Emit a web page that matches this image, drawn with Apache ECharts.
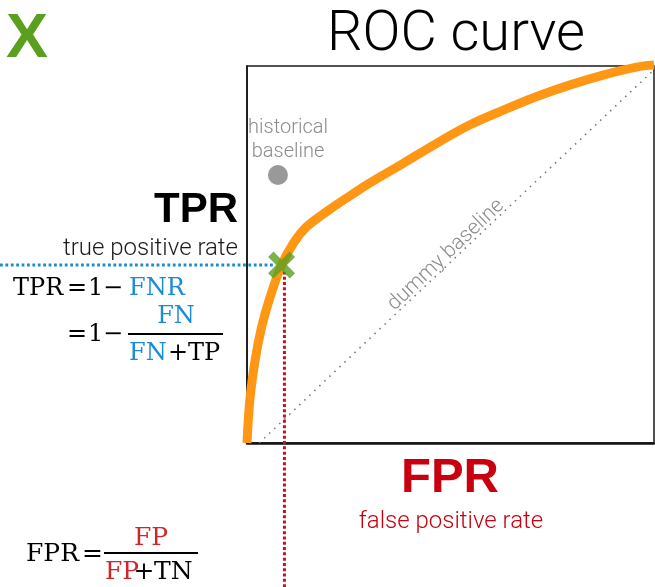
<!DOCTYPE html>
<html>
<head>
<meta charset="utf-8">
<script src="https://cdn.jsdelivr.net/npm/echarts@6/dist/echarts.min.js"></script>
<style>
  html, body { margin: 0; padding: 0; background: #fff; }
  #roc { width: 655px; height: 587px; }
</style>
</head>
<body>
<div id="roc"></div>
<script>
// ROC curve (false positive rate vs true positive rate)
const fpr = [0, 0.007, 0.020, 0.036, 0.057, 0.085, 0.114, 0.147, 0.196, 0.245, 0.302, 0.384, 0.466, 0.548, 0.630, 0.712, 0.794, 0.875, 0.957, 1.0]
const tpr = [0, 0.114, 0.220, 0.308, 0.388, 0.472, 0.530, 0.574, 0.614, 0.650, 0.690, 0.742, 0.795, 0.844, 0.883, 0.919, 0.950, 0.976, 0.997, 1.003]

const dummyBaseline = [[0.03, 0], [1, 0.99]]
const historicalBaseline = [0.076, 0.711]
const operatingPoint = [0.085, 0.472]

// guide lines run from the operating point out to the page edges
const tprGuideX = [-0.607, 0.07]
const fprGuideY = [0.455, -0.39]
const fprGuideX = 0.092

const titleText = 'ROC curve'
const tprLabel = ['TPR', 'true positive rate']
const fprLabel = ['FPR', 'false positive rate']
const histLabel = ['historical', 'baseline']
const dummyLabel = 'dummy baseline'

const blue = '#1b8bd6'
const red = '#c8000f'
const formulaRed = '#d0262b'
const green = '#5b9f1f'
const orange = '#ff9614'
const grey = '#8c8c8c'

const serif = '"DejaVu Serif", serif'
const light = 'Roboto, "Liberation Sans", sans-serif'
const bold = '"Liberation Sans", Arial, sans-serif'

// text placed by its baseline
const txt = (x, base, str, size, color, font, align = 'left', weight = 'normal') => ({
  type: 'text',
  x,
  y: base - (font === light ? 0.27 : 0.32) * size,
  silent: true,
  style: {
    text: str,
    font: `${weight} ${size}px ${font}`,
    fill: color,
    align,
    textAlign: align,
    verticalAlign: 'middle',
    textVerticalAlign: 'middle'
  }
})

const bar = (x1, x2, y) => ({
  type: 'line',
  silent: true,
  shape: { x1, y1: y, x2, y2: y },
  style: { stroke: '#000', lineWidth: 2 }
})

const graphics = [
  txt(27, 60, 'X', 63, green, bold, 'center', 'bold'),
  txt(456, 51, titleText, 56, '#000', light, 'center', '300'),
  txt(238, 224, tprLabel[0], 42, '#000', bold, 'right', 'bold'),
  txt(238, 255, tprLabel[1], 24, '#1a1a1a', light, 'right', '300'),
  txt(288, 133, histLabel[0], 20, grey, light, 'center', '300'),
  txt(288, 157, histLabel[1], 20, grey, light, 'center', '300'),
  txt(450, 494, fprLabel[0], 49, red, bold, 'center', 'bold'),
  txt(451, 528, fprLabel[1], 24, red, light, 'center', '300'),
  {
    type: 'text',
    x: 446,
    y: 255,
    rotation: 43.5 * Math.PI / 180,
    silent: true,
    style: {
      text: dummyLabel,
      font: `300 21px ${light}`,
      fill: grey,
      align: 'center',
      textAlign: 'center',
      verticalAlign: 'middle',
      textVerticalAlign: 'middle'
    }
  },
  // TPR = 1 - FNR = 1 - FN / (FN + TP)
  txt(13, 296, 'TPR', 24, '#000', serif),
  txt(67, 296, '=', 24, '#000', serif),
  txt(88, 296, '1', 24, '#000', serif),
  txt(103, 296, '−', 24, '#000', serif),
  txt(129, 296, 'FNR', 24, blue, serif),
  txt(67, 342, '=', 24, '#000', serif),
  txt(88, 342, '1', 24, '#000', serif),
  txt(103, 342, '−', 24, '#000', serif),
  txt(176, 324, 'FN', 24, blue, serif, 'center'),
  bar(128, 223, 334),
  txt(129, 361, 'FN', 24, blue, serif),
  txt(178, 361, '+', 24, '#000', serif, 'center'),
  txt(188, 361, 'TP', 24, '#000', serif),
  // FPR = FP / (FP + TN)
  txt(26, 562, 'FPR', 25, '#000', serif),
  txt(82, 562, '=', 25, '#000', serif),
  txt(151, 546, 'FP', 25, formulaRed, serif, 'center'),
  bar(104, 198, 553),
  txt(105, 580, 'FP', 25, formulaRed, serif),
  txt(144, 580, '+', 25, '#000', serif, 'center'),
  txt(154, 580, 'TN', 25, '#000', serif)
]

const hiddenAxis = {
  show: false,
  axisLine: { show: false },
  axisTick: { show: false },
  axisLabel: { show: false },
  splitLine: { show: false }
}

const chart = echarts.init(document.getElementById('roc'), null, { renderer: 'canvas' })

chart.setOption({
  animation: false,
  backgroundColor: '#fff',
  grid: [
    {
      left: 247,
      top: 66,
      width: 407,
      height: 377,
      show: true,
      borderColor: '#1a1a1a',
      borderWidth: 1.5,
      backgroundColor: 'transparent'
    },
    // same scale stretched over the full width, for the guide that leaves the plot
    { left: 0, top: 66, width: 654, height: 377, show: false }
  ],
  xAxis: [
    {
      type: 'value',
      min: 0,
      max: 1,
      axisLine: { show: true, lineStyle: { color: '#111', width: 2.5 } },
      axisTick: { show: false },
      axisLabel: { show: false },
      splitLine: { show: false }
    },
    { type: 'value', gridIndex: 1, min: -0.607, max: 1, ...hiddenAxis }
  ],
  yAxis: [
    {
      type: 'value',
      min: 0,
      max: 1,
      axisLine: { show: true, lineStyle: { color: '#111', width: 1.5 } },
      axisTick: { show: false },
      axisLabel: { show: false },
      splitLine: { show: false }
    },
    { type: 'value', gridIndex: 1, min: 0, max: 1, ...hiddenAxis }
  ],
  graphic: graphics,
  series: [
    {
      name: 'dummy baseline',
      type: 'line',
      data: dummyBaseline,
      showSymbol: false,
      silent: true,
      z: 1,
      lineStyle: { color: '#767676', width: 1.6, type: [1.5, 5.4] }
    },
    {
      name: 'ROC',
      type: 'line',
      data: fpr.map((x, i) => [x, tpr[i]]),
      smooth: 0.35,
      showSymbol: false,
      clip: false,
      silent: true,
      z: 2,
      lineStyle: { color: orange, width: 9, cap: 'butt' }
    },
    {
      name: 'tpr guide',
      type: 'line',
      xAxisIndex: 1,
      yAxisIndex: 1,
      data: tprGuideX.map((x) => [x, operatingPoint[1]]),
      showSymbol: false,
      clip: false,
      silent: true,
      z: 3,
      lineStyle: { color: blue, width: 3, type: [2.8, 2.6], cap: 'butt' }
    },
    {
      name: 'fpr guide',
      type: 'line',
      data: fprGuideY.map((y) => [fprGuideX, y]),
      showSymbol: false,
      clip: false,
      silent: true,
      z: 3,
      lineStyle: { color: '#c8101e', width: 3, type: [3, 2.3], cap: 'butt' }
    },
    {
      name: 'historical baseline',
      type: 'scatter',
      data: [historicalBaseline],
      symbolSize: 20,
      silent: true,
      z: 4,
      itemStyle: { color: '#808080' }
    },
    {
      name: 'operating point',
      type: 'scatter',
      data: [operatingPoint],
      symbol: 'path://M0,2 L2,0 L5,3 L8,0 L10,2 L7,5 L10,8 L8,10 L5,7 L2,10 L0,8 L3,5 Z',
      symbolSize: 27,
      silent: true,
      z: 10,
      itemStyle: { color: green }
    }
  ]
})

window.addEventListener('resize', () => chart.resize())
</script>
</body>
</html>
